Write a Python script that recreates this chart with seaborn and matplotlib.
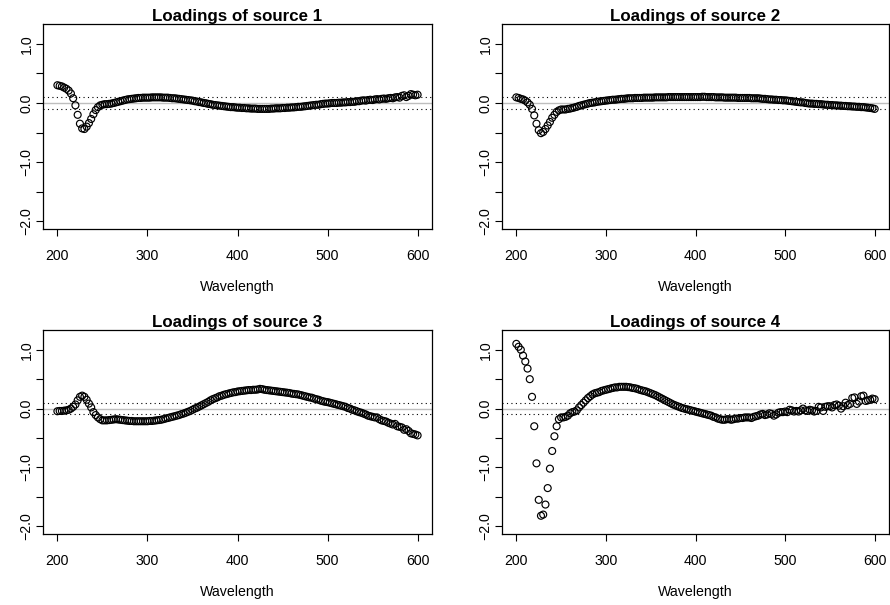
import numpy as np
import pandas as pd
import matplotlib
matplotlib.use("Agg")
import matplotlib.pyplot as plt
import seaborn as sns

# Wavelength grid (nm)
wavelength = np.linspace(200, 600, 161)

source1 = [
    0.30, 0.29, 0.28, 0.26, 0.24, 0.21, 0.16, 0.08, -0.04, -0.20, -0.35, -0.43, -0.44, -0.40, -0.34, -0.27, -0.19, -0.12, -0.07, -0.04,
    -0.03, -0.02, -0.02, -0.015, -0.01, 0.00, 0.01, 0.02, 0.03, 0.04, 0.05, 0.06, 0.065, 0.07, 0.075, 0.08, 0.085, 0.085, 0.09, 0.09,
    0.09, 0.09, 0.095, 0.095, 0.095, 0.095, 0.095, 0.09, 0.09, 0.09, 0.085, 0.08, 0.08, 0.075, 0.07, 0.065, 0.06, 0.055, 0.05, 0.045,
    0.04, 0.03, 0.025, 0.015, 0.01, 0.0, -0.005, -0.015, -0.02, -0.03, -0.035, -0.04, -0.045, -0.05, -0.055, -0.06, -0.065, -0.07, -0.07, -0.075,
    -0.08, -0.08, -0.085, -0.085, -0.09, -0.09, -0.095, -0.095, -0.095, -0.1, -0.1, -0.1, -0.1, -0.1, -0.1, -0.095, -0.095, -0.09, -0.09, -0.09,
    -0.085, -0.085, -0.08, -0.08, -0.075, -0.075, -0.07, -0.065, -0.065, -0.06, -0.055, -0.05, -0.045, -0.04, -0.035, -0.03, -0.03, -0.02, -0.015, -0.01,
    -0.01, -0.005, 0.0, 0.0, 0.0, 0.005, 0.005, 0.01, 0.01, 0.015, 0.015, 0.02, 0.02, 0.03, 0.03, 0.04, 0.045, 0.04, 0.05, 0.055,
    0.05, 0.06, 0.065, 0.06, 0.07, 0.075, 0.07, 0.08, 0.085, 0.08, 0.095, 0.1, 0.09, 0.12, 0.13, 0.1, 0.12, 0.15, 0.14, 0.13,
    0.14,
]

source2 = [
    0.095, 0.085, 0.07, 0.06, 0.04, 0.01, -0.03, -0.10, -0.21, -0.35, -0.46, -0.51, -0.49, -0.44, -0.38, -0.32, -0.25, -0.20, -0.15, -0.125,
    -0.11, -0.11, -0.11, -0.10, -0.095, -0.085, -0.075, -0.065, -0.05, -0.04, -0.03, -0.02, -0.01, 0.0, 0.005, 0.01, 0.02, 0.025, 0.03, 0.035,
    0.04, 0.045, 0.05, 0.055, 0.055, 0.06, 0.065, 0.07, 0.07, 0.075, 0.08, 0.08, 0.08, 0.085, 0.085, 0.085, 0.085, 0.09, 0.09, 0.09,
    0.09, 0.09, 0.095, 0.095, 0.095, 0.095, 0.095, 0.095, 0.1, 0.1, 0.1, 0.1, 0.1, 0.1, 0.1, 0.1, 0.1, 0.1, 0.1, 0.1,
    0.1, 0.1, 0.1, 0.105, 0.105, 0.1, 0.1, 0.1, 0.1, 0.095, 0.095, 0.095, 0.095, 0.09, 0.09, 0.09, 0.09, 0.09, 0.09, 0.085,
    0.085, 0.085, 0.085, 0.085, 0.085, 0.08, 0.08, 0.08, 0.08, 0.075, 0.07, 0.07, 0.065, 0.06, 0.06, 0.055, 0.055, 0.05, 0.05, 0.045,
    0.045, 0.04, 0.035, 0.03, 0.025, 0.02, 0.015, 0.01, 0.01, 0.0, -0.005, -0.01, -0.01, -0.015, -0.015, -0.02, -0.02, -0.025, -0.03, -0.03,
    -0.035, -0.035, -0.04, -0.04, -0.045, -0.045, -0.05, -0.05, -0.055, -0.055, -0.06, -0.06, -0.065, -0.065, -0.07, -0.07, -0.075, -0.08, -0.085, -0.09,
    -0.10,
]

source3 = [
    -0.045, -0.04, -0.04, -0.035, -0.03, -0.02, 0.0, 0.03, 0.07, 0.14, 0.20, 0.22, 0.20, 0.15, 0.085, 0.02, -0.06, -0.11, -0.15, -0.18,
    -0.20, -0.20, -0.20, -0.195, -0.19, -0.185, -0.18, -0.185, -0.19, -0.195, -0.2, -0.205, -0.21, -0.21, -0.215, -0.215, -0.215, -0.215, -0.215, -0.215,
    -0.215, -0.21, -0.21, -0.205, -0.2, -0.195, -0.19, -0.18, -0.17, -0.16, -0.15, -0.14, -0.13, -0.12, -0.11, -0.095, -0.085, -0.07, -0.055, -0.04,
    -0.02, 0.0, 0.015, 0.035, 0.055, 0.075, 0.095, 0.115, 0.14, 0.16, 0.175, 0.19, 0.21, 0.22, 0.235, 0.245, 0.255, 0.265, 0.275, 0.28,
    0.29, 0.295, 0.3, 0.305, 0.31, 0.315, 0.315, 0.32, 0.32, 0.325, 0.335, 0.33, 0.32, 0.315, 0.31, 0.305, 0.3, 0.295, 0.29, 0.285,
    0.28, 0.275, 0.27, 0.265, 0.255, 0.25, 0.245, 0.24, 0.23, 0.22, 0.21, 0.2, 0.19, 0.185, 0.17, 0.16, 0.15, 0.135, 0.125, 0.115,
    0.11, 0.1, 0.09, 0.08, 0.07, 0.06, 0.05, 0.04, 0.03, 0.01, 0.0, -0.02, -0.03, -0.045, -0.06, -0.07, -0.085, -0.10, -0.12, -0.13,
    -0.14, -0.15, -0.15, -0.18, -0.20, -0.21, -0.22, -0.24, -0.255, -0.27, -0.26, -0.30, -0.31, -0.32, -0.36, -0.35, -0.38, -0.42, -0.43, -0.44,
    -0.455,
]

source4 = [
    1.10, 1.05, 1.00, 0.90, 0.80, 0.68, 0.50, 0.20, -0.30, -0.93, -1.55, -1.82, -1.80, -1.63, -1.35, -1.02, -0.72, -0.47, -0.30, -0.18,
    -0.15, -0.15, -0.14, -0.12, -0.08, -0.06, -0.05, -0.03, 0.02, 0.06, 0.10, 0.14, 0.18, 0.21, 0.24, 0.26, 0.27, 0.28, 0.30, 0.31,
    0.32, 0.33, 0.34, 0.35, 0.36, 0.36, 0.37, 0.37, 0.37, 0.37, 0.365, 0.36, 0.35, 0.345, 0.335, 0.32, 0.31, 0.30, 0.29, 0.275,
    0.26, 0.245, 0.23, 0.21, 0.19, 0.17, 0.15, 0.13, 0.11, 0.09, 0.07, 0.055, 0.04, 0.025, 0.01, 0.0, -0.01, -0.02, -0.03, -0.04,
    -0.05, -0.06, -0.07, -0.08, -0.09, -0.10, -0.11, -0.12, -0.14, -0.15, -0.17, -0.18, -0.19, -0.19, -0.18, -0.18, -0.19, -0.18, -0.17, -0.17,
    -0.16, -0.16, -0.15, -0.15, -0.15, -0.16, -0.14, -0.13, -0.12, -0.10, -0.09, -0.11, -0.10, -0.08, -0.09, -0.12, -0.10, -0.07, -0.06, -0.06,
    -0.05, -0.06, -0.02, -0.03, -0.05, -0.04, -0.05, -0.03, 0.0, -0.03, -0.04, -0.02, -0.03, -0.05, -0.04, 0.03, 0.02, -0.04, 0.03, 0.04,
    0.04, 0.02, 0.06, 0.07, 0.05, 0.0, 0.04, 0.10, 0.06, 0.08, 0.18, 0.19, 0.08, 0.12, 0.21, 0.22, 0.13, 0.14, 0.15, 0.17,
    0.16,
]

titles = ["Loadings of source 1", "Loadings of source 2",
          "Loadings of source 3", "Loadings of source 4"]
series = [source1, source2, source3, source4]
xticks = [200, 300, 400, 500, 600]
yticks = [-2.0, -1.5, -1.0, -0.5, 0.0, 0.5, 1.0]
ytick_labels = ["\u22122.0", "", "\u22121.0", "", "0.0", "", "1.0"]

sns.set_theme(style="ticks")
plt.rcParams["font.family"] = ["Liberation Sans", "DejaVu Sans"]
plt.rcParams["text.color"] = "black"
plt.rcParams["axes.labelcolor"] = "black"
plt.rcParams["xtick.color"] = "black"
plt.rcParams["ytick.color"] = "black"

W, H = 890, 605
fig = plt.figure(figsize=(W / 100, H / 100), dpi=100)

# panel boxes in pixel coords (left, top, right, bottom)
boxes = [(43, 24, 432, 229), (502, 24, 889, 229),
         (43, 330, 432, 534), (502, 330, 889, 534)]

for box, title, vals in zip(boxes, titles, series):
    l, t, r, b = box
    ax = fig.add_axes([l / W, 1 - b / H, (r - l) / W, (b - t) / H])
    df = pd.DataFrame({"Wavelength": wavelength, "Loading": vals})
    ax.axhline(0, color="#bebebe", lw=1.0, zorder=1)
    ax.axhline(0.1, color="black", lw=0.8, ls=(0, (1, 3)), zorder=1)
    ax.axhline(-0.1, color="black", lw=0.8, ls=(0, (1, 3)), zorder=1)
    sns.scatterplot(data=df, x="Wavelength", y="Loading", ax=ax, marker="o",
                    s=25, facecolors="none", edgecolor="black",
                    linewidth=0.85, zorder=3)
    ax.set_xlim(184, 616)
    ax.set_ylim(-2.13, 1.335)
    ax.set_xticks(xticks)
    ax.set_xticklabels([str(v) for v in xticks])
    ax.set_yticks(yticks)
    ax.set_yticklabels(ytick_labels, rotation=90, va="center")
    ax.tick_params(axis="both", direction="out", length=5.2, width=0.8,
                   labelsize=10.2, pad=1.5, colors="black")
    ax.tick_params(axis="x", pad=9.5)
    for sp in ax.spines.values():
        sp.set_visible(True)
        sp.set_linewidth(0.9)
        sp.set_color("black")
    ax.set_xlabel("Wavelength", fontsize=10.2, labelpad=12)
    ax.set_ylabel("")
    ax.set_title(title, fontsize=12.2, fontweight="bold", pad=1.0,
                 color="black")

fig.savefig("out.png", dpi=100)
